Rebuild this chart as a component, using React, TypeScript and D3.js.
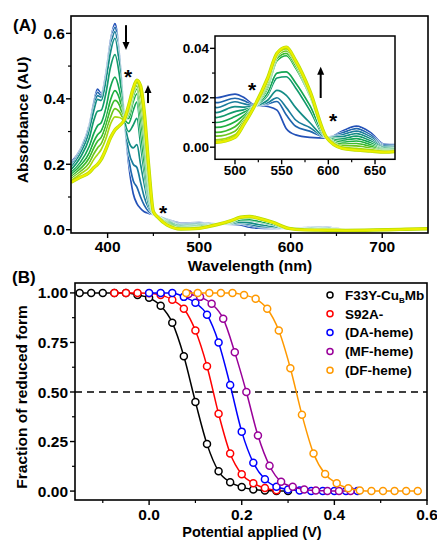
import React from "react";
import * as d3 from "d3";

// ---- panel A: absorbance spectra (reduction titration) ----
const wavelengths = [360, 370, 380, 385, 389, 393, 398, 403, 408, 413, 418, 423, 428, 432, 436, 440, 445, 450, 455, 465, 480, 500, 510, 520, 535, 545, 555, 565, 580, 598, 615, 630, 645, 660, 690, 720, 750];

const spec0 = [0.205, 0.245, 0.32, 0.39, 0.43, 0.415, 0.475, 0.575, 0.63, 0.53, 0.35, 0.2, 0.11, 0.08, 0.065, 0.055, 0.05, 0.046, 0.042, 0.032, 0.02, 0.0215, 0.02, 0.0172, 0.0165, 0.015, 0.0075, 0.005, 0.004, 0.0037, 0.0065, 0.0085, 0.006, 0.0012, 0.001, 0.001, 0.003];
const spec1 = [0.2, 0.242, 0.315, 0.385, 0.42, 0.41, 0.47, 0.565, 0.618, 0.525, 0.35, 0.22, 0.15, 0.13, 0.1, 0.075, 0.055, 0.046, 0.042, 0.031, 0.018, 0.0198, 0.0188, 0.017, 0.0175, 0.0185, 0.013, 0.0085, 0.0065, 0.004, 0.0058, 0.0075, 0.005, 0.0008, 0.001, 0.001, 0.003];
const spec2 = [0.195, 0.238, 0.31, 0.375, 0.41, 0.405, 0.46, 0.555, 0.605, 0.515, 0.348, 0.24, 0.2, 0.19, 0.145, 0.1, 0.065, 0.047, 0.041, 0.03, 0.016, 0.0184, 0.0175, 0.0168, 0.018, 0.02, 0.016, 0.011, 0.008, 0.004, 0.005, 0.0065, 0.0042, 0.0004, 0.0005, 0.001, 0.003];
const spec3 = [0.19, 0.232, 0.3, 0.365, 0.398, 0.395, 0.45, 0.54, 0.585, 0.5, 0.346, 0.27, 0.25, 0.26, 0.2, 0.14, 0.075, 0.048, 0.041, 0.029, 0.014, 0.0164, 0.0162, 0.0166, 0.019, 0.023, 0.021, 0.016, 0.01, 0.004, 0.0043, 0.0055, 0.0034, 0, 0.0005, 0.001, 0.003];
const spec4 = [0.183, 0.22, 0.28, 0.335, 0.362, 0.365, 0.415, 0.495, 0.535, 0.47, 0.344, 0.3, 0.32, 0.34, 0.26, 0.175, 0.09, 0.049, 0.04, 0.027, 0.012, 0.0144, 0.0152, 0.0164, 0.021, 0.028, 0.0285, 0.024, 0.015, 0.004, 0.0035, 0.0045, 0.0026, -0.0003, 0, 0.001, 0.003];
const spec5 = [0.175, 0.205, 0.255, 0.295, 0.318, 0.327, 0.37, 0.435, 0.466, 0.425, 0.342, 0.325, 0.365, 0.39, 0.3, 0.205, 0.1, 0.05, 0.04, 0.025, 0.01, 0.0124, 0.0142, 0.0163, 0.022, 0.03, 0.0305, 0.026, 0.017, 0.004, 0.0028, 0.0035, 0.0018, -0.0006, 0, 0.001, 0.003];
const spec6 = [0.168, 0.195, 0.235, 0.27, 0.29, 0.302, 0.338, 0.395, 0.425, 0.4, 0.34, 0.34, 0.392, 0.415, 0.34, 0.245, 0.115, 0.051, 0.04, 0.023, 0.008, 0.0103, 0.013, 0.0162, 0.024, 0.035, 0.037, 0.032, 0.021, 0.004, 0.002, 0.0025, 0.001, -0.0009, 0, 0.001, 0.003];
const spec7 = [0.162, 0.186, 0.22, 0.25, 0.27, 0.282, 0.318, 0.368, 0.395, 0.38, 0.338, 0.352, 0.408, 0.43, 0.37, 0.28, 0.13, 0.052, 0.039, 0.021, 0.006, 0.0083, 0.012, 0.0161, 0.025, 0.036, 0.038, 0.033, 0.0215, 0.004, 0.0013, 0.0015, 0.0003, -0.0012, -0.0005, 0.001, 0.003];
const spec8 = [0.156, 0.177, 0.205, 0.232, 0.25, 0.263, 0.297, 0.342, 0.37, 0.36, 0.337, 0.362, 0.418, 0.44, 0.395, 0.31, 0.145, 0.053, 0.039, 0.019, 0.0045, 0.0065, 0.011, 0.016, 0.026, 0.037, 0.039, 0.034, 0.022, 0.004, 0.0006, 0.0005, -0.0004, -0.0015, -0.0005, 0.001, 0.003];
const spec9 = [0.15, 0.17, 0.192, 0.215, 0.23, 0.245, 0.277, 0.322, 0.345, 0.343, 0.336, 0.37, 0.425, 0.45, 0.415, 0.34, 0.165, 0.054, 0.038, 0.016, 0.003, 0.005, 0.0102, 0.016, 0.027, 0.0375, 0.0398, 0.0345, 0.0225, 0.004, 0, -0.0005, -0.001, -0.0018, -0.001, 0.001, 0.003];
const spec10 = [0.145, 0.16, 0.175, 0.19, 0.2, 0.215, 0.245, 0.28, 0.305, 0.318, 0.335, 0.38, 0.432, 0.457, 0.44, 0.36, 0.19, 0.055, 0.038, 0.014, 0.002, 0.004, 0.0095, 0.016, 0.028, 0.038, 0.0405, 0.035, 0.023, 0.004, -0.0005, -0.0012, -0.0016, -0.002, -0.001, 0.001, 0.003];

const spectra = [spec0, spec1, spec2, spec3, spec4, spec5, spec6, spec7, spec8, spec9, spec10];
const spectraColors = ["#2452b8", "#1f66ad", "#1a7c9c", "#148c86", "#119a6c", "#14a653", "#1eb040", "#3cbb2c", "#6cc61e", "#a6d814", "#ecef00"];

const aXTicks = [400, 500, 600, 700];
const aXMinor = [450, 550, 650];
const aYTicks = [0, 0.2, 0.4, 0.6];
const aYMinor = [0.1, 0.3, 0.5];
const insetXTicks = [500, 550, 600, 650];
const insetXMinor = [525, 575, 625];
const insetYTicks = [0, 0.02, 0.04];
const insetYMinor = [0.01, 0.03];

// ---- panel B: redox titration ----
const potBlack = [-0.15, -0.125, -0.1, -0.075, -0.05, -0.025, 0, 0.025, 0.05, 0.075, 0.1, 0.125, 0.15, 0.175, 0.2, 0.225, 0.25, 0.275, 0.3];
const fracBlack = [1, 1, 1, 1, 1, 0.99, 0.975, 0.935, 0.85, 0.68, 0.45, 0.237, 0.1, 0.045, 0.02, 0.008, 0.003, 0.001, 0];
const potRed = [-0.075, -0.05, -0.025, 0, 0.025, 0.05, 0.075, 0.1, 0.125, 0.15, 0.175, 0.2, 0.225, 0.25, 0.275];
const fracRed = [1, 1, 1, 0.998, 0.99, 0.965, 0.92, 0.81, 0.63, 0.39, 0.19, 0.085, 0.04, 0.015, 0.004];
const potBlue = [0, 0.025, 0.05, 0.075, 0.1, 0.125, 0.15, 0.175, 0.2, 0.225, 0.25, 0.275, 0.3, 0.325, 0.35, 0.375, 0.4, 0.425, 0.45];
const fracBlue = [1, 1, 1, 0.98, 0.95, 0.89, 0.75, 0.535, 0.3, 0.143, 0.06, 0.022, 0.008, 0.003, 0.001, 0, 0, 0, 0];
const potPurple = [0.085, 0.11, 0.135, 0.16, 0.185, 0.21, 0.235, 0.26, 0.285, 0.31, 0.335, 0.36, 0.385, 0.41, 0.435];
const fracPurple = [0.995, 0.98, 0.945, 0.87, 0.7, 0.5, 0.28, 0.128, 0.047, 0.022, 0.008, 0.003, 0.001, 0, 0];
const potOrange = [0.08, 0.105, 0.13, 0.155, 0.18, 0.205, 0.23, 0.255, 0.28, 0.305, 0.33, 0.355, 0.38, 0.405, 0.43, 0.455, 0.48, 0.505, 0.53, 0.555, 0.58];
const fracOrange = [1, 1, 1, 1, 1, 0.99, 0.97, 0.92, 0.81, 0.62, 0.385, 0.19, 0.086, 0.039, 0.014, 0.003, 0, 0, 0, 0, 0];

const bXTicks = [0, 0.2, 0.4, 0.6];
const bXMinor = [-0.1, 0.1, 0.3, 0.5];
const bYTicks = [0, 0.25, 0.5, 0.75, 1];
const bYMinor = [0.125, 0.375, 0.625, 0.875];

const seriesB = [
  { label: "F33Y-Cu", sub: "B", tail: "Mb", color: "#000000", v: potBlack, f: fracBlack },
  { label: "S92A-", color: "#ff0000", v: potRed, f: fracRed },
  { label: "(DA-heme)", color: "#0000ff", v: potBlue, f: fracBlue },
  { label: "(MF-heme)", color: "#990099", v: potPurple, f: fracPurple },
  { label: "(DF-heme)", color: "#ff9900", v: potOrange, f: fracOrange },
];

const font = "'Liberation Sans', Arial, sans-serif";

export default function App() {
  const width = 437;
  const height = 540;

  const xA = d3.scaleLinear().domain([360, 750]).range([71, 428]);
  const yA = d3.scaleLinear().domain([-0.01, 0.653]).range([233, 16]);
  const xI = d3.scaleLinear().domain([478.6, 671.4]).range([215, 395]);
  const yI = d3.scaleLinear().domain([-0.0049, 0.045]).range([159.3, 36]);
  const xB = d3.scaleLinear().domain([-0.16, 0.6]).range([75, 427]);
  const yB = d3.scaleLinear().domain([-0.045, 1.05]).range([500, 283]);

  const lineA = d3
    .line<number>()
    .x((d, i) => xA(wavelengths[i]))
    .y((d) => yA(d))
    .curve(d3.curveMonotoneX);
  const lineI = d3
    .line<number>()
    .x((d, i) => xI(wavelengths[i]))
    .y((d) => yI(d))
    .curve(d3.curveMonotoneX);

  const f1 = d3.format(".1f");
  const f2 = d3.format(".2f");

  const xAxis = (sc, ticks, minor, y, fmt, size, dy) => (
    <g>
      {ticks.map((t) => (
        <g key={"t" + t}>
          <line x1={sc(t)} x2={sc(t)} y1={y} y2={y + 5} stroke="#000" strokeWidth={1.4} />
          <text x={sc(t)} y={y + dy} textAnchor="middle" fontSize={size} fontWeight="bold">
            {fmt(t)}
          </text>
        </g>
      ))}
      {minor.map((t) => (
        <line key={"m" + t} x1={sc(t)} x2={sc(t)} y1={y} y2={y + 3} stroke="#000" strokeWidth={1.2} />
      ))}
    </g>
  );
  const yAxis = (sc, ticks, minor, x, fmt, size, gap) => (
    <g>
      {ticks.map((t) => (
        <g key={"t" + t}>
          <line x1={x - 5} x2={x} y1={sc(t)} y2={sc(t)} stroke="#000" strokeWidth={1.4} />
          <text x={x - gap} y={sc(t)} dy="0.36em" textAnchor="end" fontSize={size} fontWeight="bold">
            {fmt(t)}
          </text>
        </g>
      ))}
      {minor.map((t) => (
        <line key={"m" + t} x1={x - 3} x2={x} y1={sc(t)} y2={sc(t)} stroke="#000" strokeWidth={1.2} />
      ))}
    </g>
  );

  const arrow = (x, y1, y2) => {
    const dir = y2 > y1 ? 1 : -1;
    return (
      <g>
        <line x1={x} x2={x} y1={y1} y2={y2 - dir * 6} stroke="#000" strokeWidth={2} />
        <path d={`M${x - 3.5},${y2 - dir * 8}L${x + 3.5},${y2 - dir * 8}L${x},${y2}Z`} fill="#000" />
      </g>
    );
  };
  const star = (x, y, key) => (
    <text key={key} x={x} y={y + 11} textAnchor="middle" fontSize={21} fontWeight="bold">
      *
    </text>
  );

  const lineB = d3.line<[number, number]>().x((d) => xB(d[0])).y((d) => yB(d[1])).curve(d3.curveMonotoneX);

  const drawSpectra = (gen) =>
    spectra.map((s, i) => {
      const last = i === spectra.length - 1;
      return (
        <g key={i}>
          <path d={gen(s)} fill="none" stroke={last ? "#b6dc00" : "#fff"} strokeWidth={last ? 3.4 : 2.6} />
          <path d={gen(s)} fill="none" stroke={spectraColors[i]} strokeWidth={last ? 2 : 1.7} />
        </g>
      );
    });

  return (
    <svg
      width={width}
      height={height}
      style={{ position: "absolute", left: 0, top: 0, background: "#fff" }}
      fontFamily={font}
    >
      <defs>
        <clipPath id="clipA">
          <rect x={71} y={16} width={357} height={217} />
        </clipPath>
        <clipPath id="clipI">
          <rect x={215} y={36} width={180} height={123.3} />
        </clipPath>
        <clipPath id="clipB">
          <rect x={75} y={283} width={352} height={217} />
        </clipPath>
      </defs>

      {/* ---- Panel A ---- */}
      <text x={13} y={31} fontSize={17} fontWeight="bold">(A)</text>
      <g clipPath="url(#clipA)">{drawSpectra(lineA)}</g>
      <rect x={71} y={16} width={357} height={217} fill="none" stroke="#000" strokeWidth={1.6} />
      {xAxis(xA, aXTicks, aXMinor, 233, (d) => String(d), 15.5, 19)}
      {yAxis(yA, aYTicks, aYMinor, 71, f1, 15.5, 6)}
      <text x={250} y={271} textAnchor="middle" fontSize={15.5} fontWeight="bold">Wavelength (nm)</text>
      <text transform="translate(28,120) rotate(-90)" textAnchor="middle" fontSize={15.5} fontWeight="bold">
        Absorbance (AU)
      </text>
      {arrow(xA(420.1), yA(0.625), yA(0.549))}
      {arrow(xA(444.1), yA(0.387), yA(0.442))}
      {star(xA(422.3), yA(0.479), "s1")}
      {star(xA(460.5), yA(0.0633), "s2")}

      {/* inset */}
      <rect x={215} y={36} width={180} height={123.3} fill="#fff" />
      <g clipPath="url(#clipI)">{drawSpectra(lineI)}</g>
      <rect x={215} y={36} width={180} height={123.3} fill="none" stroke="#000" strokeWidth={1.5} />
      {xAxis(xI, insetXTicks, insetXMinor, 159.3, (d) => String(d), 13.5, 16)}
      {yAxis(yI, insetYTicks, insetYMinor, 215, f2, 13.5, 6)}
      {arrow(xI(591.8), yI(0.0199), yI(0.0326))}
      {star(xI(518.2), yI(0.0248), "s3")}
      {star(xI(605), yI(0.0122), "s4")}

      {/* ---- Panel B ---- */}
      <text x={12} y={283} fontSize={17} fontWeight="bold">(B)</text>
      <line x1={75} x2={427} y1={yB(0.5)} y2={yB(0.5)} stroke="#000" strokeWidth={1.5} strokeDasharray="7,5" />
      <g clipPath="url(#clipB)">
        {seriesB.map((s) => {
          const pts: [number, number][] = s.v.map((v, i) => [v, s.f[i]]);
          return (
            <g key={s.label}>
              <path d={lineB(pts)} fill="none" stroke={s.color} strokeWidth={1.5} />
              {pts.map((p, i) => (
                <circle key={i} cx={xB(p[0])} cy={yB(p[1])} r={3.5} fill="#fff" stroke={s.color} strokeWidth={1.5} />
              ))}
            </g>
          );
        })}
      </g>
      <rect x={75} y={283} width={352} height={217} fill="none" stroke="#000" strokeWidth={1.6} />
      {xAxis(xB, bXTicks, bXMinor, 500, f1, 15.5, 20)}
      {yAxis(yB, bYTicks, bYMinor, 75, f2, 15.5, 7)}
      <text x={252} y={536.5} textAnchor="middle" fontSize={14.5} fontWeight="bold">Potential applied (V)</text>
      <text transform="translate(27,397) rotate(-90)" textAnchor="middle" fontSize={15.5} fontWeight="bold">
        Fraction of reduced form
      </text>

      {/* legend */}
      {seriesB.map((s, i) => {
        const cy = 295 + i * 18.8;
        return (
          <g key={"lg" + i}>
            <circle cx={330} cy={cy} r={3} fill="#fff" stroke={s.color} strokeWidth={1.5} />
            <text x={345} y={cy} dy="0.36em" fontSize={13.5} fontWeight="bold">
              {s.label}
              {s.sub ? (
                <tspan fontSize={8} dy="3">{s.sub}</tspan>
              ) : null}
              {s.tail ? <tspan dy="-3">{s.tail}</tspan> : null}
            </text>
          </g>
        );
      })}
    </svg>
  );
}
